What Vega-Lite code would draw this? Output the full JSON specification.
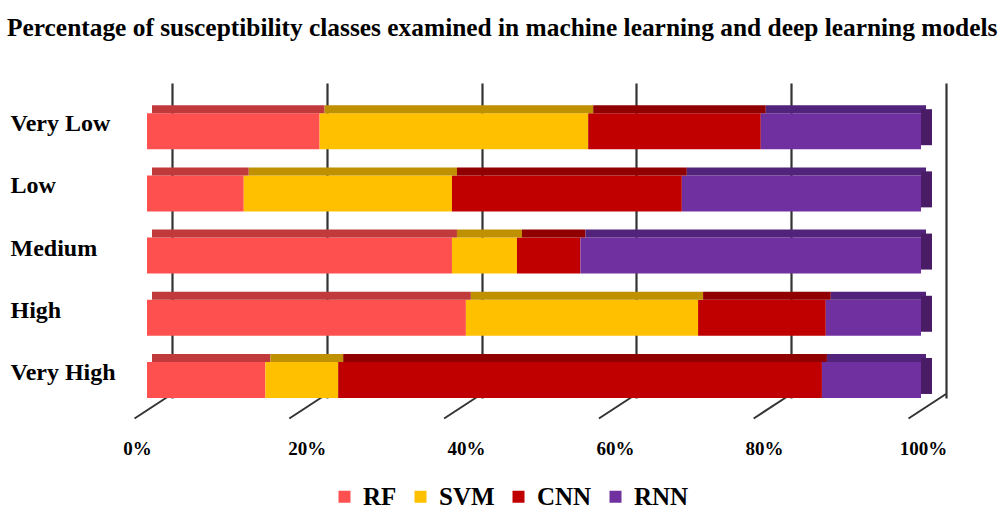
{
  "$schema": "https://vega.github.io/schema/vega-lite/v6.json",
  "autosize": "none",
  "width": 774,
  "height": 315,
  "padding": {"left": 147, "top": 83, "right": 85, "bottom": 124},
  "background": "white",
  "title": {
    "text": "Percentage of susceptibility classes examined in machine learning and deep learning models",
    "anchor": "start",
    "frame": "group",
    "dx": -140,
    "offset": 22,
    "baseline": "alphabetic",
    "font": "Liberation Serif",
    "fontSize": 25.4,
    "fontWeight": "bold",
    "color": "#000000"
  },
  "data": {
    "values": [
      {"cls": "Very Low", "model": "RF", "pct": 22.3},
      {"cls": "Very Low", "model": "SVM", "pct": 34.7},
      {"cls": "Very Low", "model": "CNN", "pct": 22.3},
      {"cls": "Very Low", "model": "RNN", "pct": 20.7},
      {"cls": "Low", "model": "RF", "pct": 12.5},
      {"cls": "Low", "model": "SVM", "pct": 26.9},
      {"cls": "Low", "model": "CNN", "pct": 29.7},
      {"cls": "Low", "model": "RNN", "pct": 30.9},
      {"cls": "Medium", "model": "RF", "pct": 39.4},
      {"cls": "Medium", "model": "SVM", "pct": 8.4},
      {"cls": "Medium", "model": "CNN", "pct": 8.2},
      {"cls": "Medium", "model": "RNN", "pct": 44.0},
      {"cls": "High", "model": "RF", "pct": 41.2},
      {"cls": "High", "model": "SVM", "pct": 30.0},
      {"cls": "High", "model": "CNN", "pct": 16.5},
      {"cls": "High", "model": "RNN", "pct": 12.3},
      {"cls": "Very High", "model": "RF", "pct": 15.3},
      {"cls": "Very High", "model": "SVM", "pct": 9.4},
      {"cls": "Very High", "model": "CNN", "pct": 62.5},
      {"cls": "Very High", "model": "RNN", "pct": 12.8}
    ]
  },
  "encoding": {
    "y": {
      "field": "cls",
      "type": "nominal",
      "sort": ["Very Low", "Low", "Medium", "High", "Very High"],
      "scale": {"paddingInner": 0.42, "paddingOuter": 0.2424, "align": 1},
      "axis": {
        "title": null,
        "ticks": false,
        "domain": false,
        "grid": false,
        "labelAlign": "left",
        "labelBaseline": "middle",
        "labelPadding": 137,
        "labelOffset": -7,
        "labelFont": "Liberation Serif",
        "labelFontSize": 24,
        "labelFontWeight": "bold",
        "labelColor": "#000000"
      }
    }
  },
  "layer": [
    {
      "data": {"values": [{"v": 0}, {"v": 0.2}, {"v": 0.4}, {"v": 0.6}, {"v": 0.8}, {"v": 1}]},
      "mark": {"type": "rule", "color": "#333333", "strokeWidth": 2, "xOffset": 25, "x2Offset": -12.5, "yOffset": 14, "y2Offset": 38.5},
      "encoding": {
        "x": {"field": "v", "type": "quantitative"},
        "x2": {"field": "v"},
        "y": {"datum": "Very High", "type": "nominal"},
        "y2": {"datum": "Very High"}
      }
    },
    {
      "transform": [{"calculate": "indexof(['RF','SVM','CNN','RNN'], datum.model)", "as": "stackKey"}],
      "mark": {"type": "bar", "height": 36},
      "encoding": {
        "x": {
          "aggregate": "sum",
          "field": "pct",
          "type": "quantitative",
          "stack": "normalize",
          "scale": {"domain": [0, 1], "nice": false},
          "axis": {
            "title": null,
            "values": [0, 0.2, 0.4, 0.6, 0.8, 1],
            "format": "%",
            "ticks": false,
            "domain": false,
            "grid": true,
            "gridColor": "#333333",
            "gridWidth": 2.2,
            "tickOffset": 25,
            "labelOffset": {
              "condition": [
                {"test": "datum.value == 0", "value": -35},
                {"test": "abs(datum.value - 0.2) < 0.01", "value": -20},
                {"test": "abs(datum.value - 0.4) < 0.01", "value": -15.6},
                {"test": "abs(datum.value - 0.6) < 0.01", "value": -21.4},
                {"test": "abs(datum.value - 0.8) < 0.01", "value": -27.2}
              ],
              "value": -23
            },
            "labelPadding": 41,
            "labelFlush": false,
            "labelFont": "Liberation Serif",
            "labelFontSize": 19,
            "labelFontWeight": "bold",
            "labelColor": "#000000"
          }
        },
        "order": {"field": "stackKey", "type": "quantitative", "sort": "ascending"},
        "color": {
          "field": "model",
          "type": "nominal",
          "sort": ["RF", "SVM", "CNN", "RNN"],
          "scale": {"domain": ["RF", "SVM", "CNN", "RNN"], "range": ["#ff5050", "#ffc000", "#c00000", "#7030a0"]},
          "legend": {
            "title": null,
            "orient": "none",
            "legendX": 185,
            "legendY": 401,
            "direction": "horizontal",
            "symbolType": "square",
            "symbolSize": 144,
            "symbolStrokeWidth": 0,
            "labelOffset": 6,
            "columnPadding": 11,
            "padding": 0,
            "labelFont": "Liberation Serif",
            "labelFontSize": 25,
            "labelFontWeight": "bold",
            "labelColor": "#000000"
          }
        }
      }
    },
    {
      "transform": [{"calculate": "indexof(['RF','SVM','CNN','RNN'], datum.model)", "as": "stackKey"}],
      "mark": {"type": "bar", "height": 8, "yOffset": -22, "xOffset": 5},
      "encoding": {
        "x": {"aggregate": "sum", "field": "pct", "type": "quantitative", "stack": "normalize"},
        "order": {"field": "stackKey", "type": "quantitative", "sort": "ascending"},
        "color": {
          "field": "model",
          "type": "nominal",
          "sort": ["RF", "SVM", "CNN", "RNN"],
          "scale": {"domain": ["RF", "SVM", "CNN", "RNN"], "range": ["#c0393b", "#bf9000", "#900000", "#52237a"]},
          "legend": null
        }
      }
    },
    {
      "transform": [{"filter": "datum.model == 'RNN'"}],
      "mark": {"type": "bar", "height": 36, "yOffset": -4, "x2Offset": 11, "color": "#4a1c66"},
      "encoding": {
        "x": {"datum": 1, "type": "quantitative"},
        "x2": {"datum": 1}
      }
    }
  ],
  "resolve": {"scale": {"color": "independent"}},
  "config": {"view": {"stroke": null}}
}
